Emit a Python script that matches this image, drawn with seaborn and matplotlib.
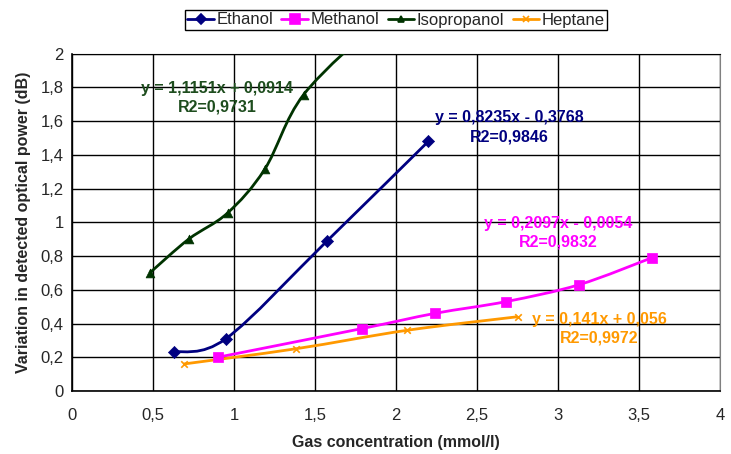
import numpy as np
import pandas as pd
import matplotlib.pyplot as plt
from matplotlib.path import Path
from matplotlib.patches import PathPatch
from matplotlib.lines import Line2D
import seaborn as sns

# values
ethanol_x = [0.63, 0.95, 1.575, 2.20]
ethanol_y = [0.23, 0.31, 0.89, 1.48]
methanol_x = [0.90, 1.79, 2.24, 2.68, 3.13, 3.58]
methanol_y = [0.20, 0.37, 0.46, 0.53, 0.63, 0.79]
isopropanol_x = [0.48, 0.72, 0.96, 1.19, 1.43, 1.90]
isopropanol_y = [0.70, 0.90, 1.055, 1.315, 1.757, 2.20]
heptane_x = [0.69, 1.38, 2.07, 2.75]
heptane_y = [0.16, 0.25, 0.36, 0.44]

series = ["Ethanol", "Methanol", "Isopropanol", "Heptane"]
colors = {"Ethanol": "#000080", "Methanol": "#FF00FF",
          "Isopropanol": "#003300", "Heptane": "#FF9900"}
text_colors = {"Ethanol": "#000080", "Methanol": "#FF00FF",
               "Isopropanol": "#1E4D1E", "Heptane": "#FF9900"}
markers = {"Ethanol": "D", "Methanol": "s", "Isopropanol": "^", "Heptane": "x"}
msizes = {"Ethanol": 38, "Methanol": 62, "Isopropanol": 40, "Heptane": 22}

fits = {
    "Isopropanol": ("y = 1,1151x + 0,0914\nR2=0,9731", 0.894, 1.736),
    "Ethanol": ("y = 0,8235x - 0,3768\nR2=0,9846", 2.70, 1.563),
    "Methanol": ("y = 0,2097x - 0,0054\nR2=0,9832", 3.0, 0.94),
    "Heptane": ("y = 0,141x + 0,056\nR2=0,9972", 3.255, 0.37),
}

xs = {"Ethanol": ethanol_x, "Methanol": methanol_x,
      "Isopropanol": isopropanol_x, "Heptane": heptane_x}
ys = {"Ethanol": ethanol_y, "Methanol": methanol_y,
      "Isopropanol": isopropanol_y, "Heptane": heptane_y}

sns.set_style("white")
plt.rcParams["font.family"] = ["Liberation Sans", "DejaVu Sans"]

fig = plt.figure(figsize=(7.31, 4.54), dpi=100)
ax = fig.add_axes([0.0985, 0.1388, 0.8865, 0.7432])


def smooth_path(px, py):
    # Excel-like smoothed line: cubic bezier through the points
    p = np.column_stack([px, py])
    verts = [p[0]]
    codes = [Path.MOVETO]
    n = len(p)
    for i in range(n - 1):
        prev = p[i - 1] if i > 0 else p[i]
        nxt = p[i + 2] if i + 2 < n else p[i + 1]
        c1 = p[i] + (p[i + 1] - prev) / 6.0
        c2 = p[i + 1] - (nxt - p[i]) / 6.0
        verts += [c1, c2, p[i + 1]]
        codes += [Path.CURVE4] * 3
    return Path(verts, codes)


for s in series:
    ax.add_patch(PathPatch(smooth_path(xs[s], ys[s]), fill=False,
                           edgecolor=colors[s], lw=2.0, zorder=3))
    d = pd.DataFrame({"x": xs[s], "y": ys[s]})
    if markers[s] == "x":
        sns.scatterplot(data=d, x="x", y="y", color=colors[s], marker="x",
                        s=msizes[s], linewidth=1.2, ax=ax, zorder=4)
    else:
        sns.scatterplot(data=d, x="x", y="y", color=colors[s], marker=markers[s],
                        s=msizes[s], edgecolor=colors[s], linewidth=0.5,
                        ax=ax, zorder=4)

for s in series:
    txt, tx, ty = fits[s]
    ax.text(tx, ty, txt, color=text_colors[s], fontsize=11.5, fontweight="bold",
            ha="center", va="center", linespacing=1.3, zorder=5)

ax.set_xlim(0, 4)
ax.set_ylim(0, 2)
ax.set_xticks(np.arange(0, 4.01, 0.5))
ax.set_yticks(np.arange(0, 2.01, 0.2))
ax.set_xticklabels(["0", "0,5", "1", "1,5", "2", "2,5", "3", "3,5", "4"])
ax.set_yticklabels(["0", "0,2", "0,4", "0,6", "0,8", "1", "1,2", "1,4", "1,6", "1,8", "2"])
ax.tick_params(axis="both", labelsize=12, direction="out", length=4,
               width=1, color="black", pad=2)
ax.tick_params(axis="x", pad=8)
ax.grid(True, color="black", lw=1)
ax.set_axisbelow(True)
for side in ["left", "bottom", "top"]:
    ax.spines[side].set_color("black")
ax.spines["right"].set_color("#808080")
ax.spines["left"].set_linewidth(1.2)
ax.spines["bottom"].set_linewidth(1.2)

ax.set_xlabel("Gas concentration (mmol/l)", fontsize=11.5, fontweight="bold", labelpad=9)
ax.set_ylabel("Variation in detected optical power (dB)", fontsize=11.5,
              fontweight="bold", labelpad=7)

handles = [Line2D([0], [0], color=colors[s], lw=2, marker=markers[s],
                  markersize=5 if s != "Methanol" else 7, markeredgewidth=1.2)
           for s in series]
fig.legend(handles, series, loc="center", bbox_to_anchor=(396 / 731, 1 - 20 / 454),
           ncol=4, frameon=True, fancybox=False, edgecolor="black", fontsize=12,
           handlelength=1.6, handletextpad=0.15, columnspacing=0.5,
           borderpad=0.15, framealpha=1)

fig.savefig("out.png", dpi=100)
